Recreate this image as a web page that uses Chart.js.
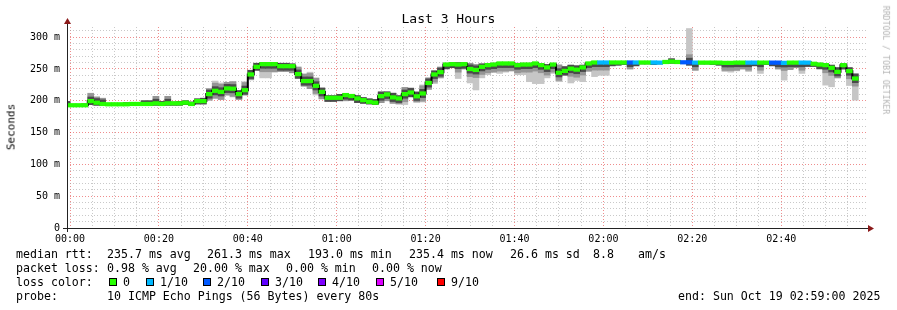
<!DOCTYPE html>
<html>
<head>
<meta charset="utf-8">
<title>Last 3 Hours</title>
<script src="https://cdn.jsdelivr.net/npm/chart.js@4.4.0/dist/chart.umd.min.js"></script>
<style>
  html, body { margin: 0; padding: 0; background: #fff; }
  #wrap { position: relative; width: 897px; height: 310px; overflow: hidden;
          font-family: "DejaVu Sans Mono", monospace; color: #000; }
  #c { position: absolute; left: 0; top: 0; }
  .t { position: absolute; white-space: pre; font-size: 11.6px; line-height: 14px; }
  .box { position: absolute; width: 6px; height: 6px; border: 1px solid #000; }
  .rot { position: absolute; white-space: pre; line-height: 1; }
</style>
</head>
<body>
<div id="wrap">
  <canvas id="c" width="897" height="310"></canvas>
  <div class="t" style="left:0;width:897px;top:12px;text-align:center;font-size:13px;">Last 3 Hours</div>
  <div class="rot" style="left:11px;top:127px;font-size:11px;color:#000;transform:translate(-50%,-50%) rotate(-90deg);">Seconds</div>
  <div class="rot" style="left:886px;top:60px;font-size:8.2px;color:#b4b4b4;transform:translate(-50%,-50%) rotate(90deg);">RRDTOOL / TOBI OETIKER</div>
  <div id="legend"></div>
</div>
<script>
// one step = 80s (10 pings), first step starts 80s before 00:00
const STEP_MIN = 80 / 60;
const FIRST_STEP = -1;

// median rtt per step, ms
const median = [
  193, 193, 193, 193, 199.5, 197, 195, 194.5, 194.5, 194.5,
  194.5, 195, 195, 195, 195, 196, 195, 196, 196, 196,
  197, 195, 199.5, 199.5, 210.5, 215.7, 214, 219.4, 219, 210.5,
  216.7, 241.4, 253.4, 257.6, 257.6, 257.6, 254.4, 254.4, 254.4, 242,
  231, 231, 223.5, 214, 204.7, 204.7, 204.7, 209, 207.5, 203.7,
  201, 198.4, 197, 207.3, 210, 205.3, 203.7, 210.5, 213, 207,
  211.5, 228, 241.4, 245, 257, 257.6, 257, 257.6, 250, 248.5,
  253.4, 256, 257, 258.7, 258.7, 258.7, 256, 257, 257, 258.7,
  256, 252.4, 257, 244, 247, 250.5, 249, 252.4, 258.7, 260.2,
  260.2, 260.2, 260.2, 260.2, 260.2, 260.2, 260.2, 260.2, 260.2, 260.2,
  260, 261, 261.7, 261, 260.5, 260.5, 260, 260, 260, 260,
  260, 259.6, 259.6, 260, 260, 260, 260, 260, 260, 260,
  260, 259.6, 260, 260, 260, 260, 258.2, 257, 256, 251.8,
  245.5, 256, 246.6, 235
];

// fastest ping per step (bottom of smoke), ms
const smokeLo = [
  192, 192, 192, 192, 194, 193, 193, 193, 193, 193,
  193, 193, 193, 193, 193, 193, 193, 193, 193, 193,
  194, 193, 195, 195, 201, 204, 202, 209, 206, 202,
  209, 233, 248, 236, 236, 245, 246, 246, 244, 235,
  223, 219, 209, 203, 199, 199, 200, 200, 201, 197,
  196, 195, 194, 197, 200, 196, 195, 194, 206, 198,
  198, 218, 227, 236, 250, 252, 235, 250, 228, 217,
  236, 241, 245, 243, 245, 247, 241, 241, 230, 227,
  227, 236, 243, 230, 240, 228, 232, 230, 246, 238,
  240, 240, 255, 256, 257, 250, 255, 258, 258, 257,
  258, 259, 259, 259, 259, 256, 248, 258, 258, 257,
  256, 246, 245, 247, 250, 246, 255, 243, 257, 255,
  250, 232.5, 249, 252, 243, 254, 254, 250, 224.6, 222,
  236, 250, 224, 201
];

// slowest ping per step (top of smoke), ms
const smokeHi = [
  199, 194, 194, 195, 212, 206, 204, 196, 196, 196,
  197, 197, 197, 200, 200, 207, 199, 207, 198, 199,
  200, 198, 203, 204, 219, 231, 228, 229, 230, 216,
  230, 248, 259, 260, 260, 260, 259, 259, 258, 253,
  242, 245, 236, 220, 208, 208, 210, 211, 210, 208,
  205, 203, 202, 214, 214, 212, 208, 221, 220, 214,
  225, 236, 247, 253, 259, 260, 260, 260, 259, 257,
  258, 258, 259, 260, 260, 260, 259, 259, 259, 260,
  258, 257, 258, 257, 254, 256, 255, 256, 260, 261,
  261, 261, 261, 261, 261, 261, 261, 261, 261, 261,
  261, 262, 266, 263, 261, 313.6, 261, 261, 261, 261,
  261, 261, 261, 261, 261, 261, 261, 261, 261, 261,
  261, 261, 261, 261, 261, 261, 260, 259, 258, 256,
  252, 258, 252, 243
];

// lost pings out of 10, per step
const loss = [
  0, 0, 0, 0, 0, 0, 0, 0, 0, 0,
  0, 0, 0, 0, 0, 0, 0, 0, 0, 0,
  0, 0, 0, 0, 0, 0, 0, 0, 0, 0,
  0, 0, 0, 0, 0, 0, 0, 0, 0, 0,
  0, 0, 0, 0, 0, 0, 0, 0, 0, 0,
  0, 0, 0, 0, 0, 0, 0, 0, 0, 0,
  0, 0, 0, 0, 0, 0, 0, 0, 0, 0,
  0, 0, 0, 0, 0, 0, 0, 0, 0, 0,
  0, 0, 0, 0, 0, 0, 0, 0, 0, 0,
  1, 1, 0, 0, 0, 2, 1, 0, 0, 1,
  1, 0, 0, 0, 2, 2, 1, 0, 0, 0,
  0, 0, 0, 0, 0, 1, 1, 0, 0, 2,
  2, 1, 0, 0, 1, 1, 0, 0, 0, 0,
  0, 0, 0, 0
];

const lossLevels = [0, 1, 2, 3, 4, 5, 9];
const lossLabels = ["0", "1/10", "2/10", "3/10", "4/10", "5/10", "9/10"];
const lossColors = ["#26ff00", "#00b8ff", "#0059ff", "#5e00ff", "#7e00ff", "#dd00ff", "#ff0000"];

const xTickLabels = ["00:00", "00:20", "00:40", "01:00", "01:20", "01:40", "02:00", "02:20", "02:40"];
const yTickLabels = ["0", "50 m", "100 m", "150 m", "200 m", "250 m", "300 m"];

const statsRtt = ["235.7 ms avg", "261.3 ms max", "193.0 ms min", "235.4 ms now", "26.6 ms sd", "8.8", "am/s"];
const statsLoss = ["0.98 % avg", "20.00 % max", "0.00 % min", "0.00 % now"];
const probeText = "10 ICMP Echo Pings (56 Bytes) every 80s";
const endText = "end: Sun Oct 19 02:59:00 2025";

// ---- legend (html text) ----
function legendHTML() {
  const t = (x, y, s) => `<div class="t" style="left:${x}px;top:${y - 7}px">${s}</div>`;
  let h = "";
  h += t(16, 254, "median rtt:");
  [107, 207, 308, 409, 510, 593, 638].forEach((x, i) => h += t(x, 254, statsRtt[i]));
  h += t(16, 268, "packet loss:");
  [107, 193, 286, 372].forEach((x, i) => h += t(x, 268, statsLoss[i]));
  h += t(16, 282, "loss color:");
  [109, 146, 203, 261, 318, 376, 437].forEach((x, i) => {
    h += `<div class="box" style="left:${x}px;top:278px;background:${lossColors[i]}"></div>`;
    h += t(x + 14, 282, lossLabels[i]);
  });
  h += t(16, 296, "probe:");
  h += t(107, 296, probeText);
  h += t(678, 296, endText);
  return h;
}
document.getElementById("legend").innerHTML = legendHTML();

// ---- chart ----
const stepX = i => (FIRST_STEP + i + 0.5) * STEP_MIN;
const colorFor = n => lossColors[lossLevels.indexOf(n)];

// smoke shading bands around the median (ms), clipped to the ping range
function band(d) {
  return median.map((m, i) => ({
    x: stepX(i),
    y: [Math.max(smokeLo[i], m - d), Math.min(smokeHi[i], m + d)]
  }));
}

const MAJOR = "rgba(230, 80, 80, 0.65)";
const MINOR = "rgba(165, 165, 165, 0.6)";
const barOpts = { type: "bar", grouped: false, barPercentage: 1, categoryPercentage: 1, borderWidth: 0 };

const axisArrows = {
  id: "axisArrows",
  afterDraw(chart) {
    const { ctx, chartArea: a } = chart;
    ctx.save();
    ctx.strokeStyle = "#222";
    ctx.lineWidth = 1;
    ctx.beginPath();
    ctx.moveTo(a.left - 4, a.bottom + 0.5);
    ctx.lineTo(a.right + 2, a.bottom + 0.5);
    ctx.moveTo(a.left + 0.5, a.bottom + 4);
    ctx.lineTo(a.left + 0.5, a.top - 4);
    ctx.stroke();
    ctx.fillStyle = "#8b1a1a";
    ctx.beginPath();
    ctx.moveTo(a.right + 1, a.bottom - 3);
    ctx.lineTo(a.right + 7, a.bottom + 0.5);
    ctx.lineTo(a.right + 1, a.bottom + 4);
    ctx.closePath();
    ctx.fill();
    ctx.beginPath();
    ctx.moveTo(a.left - 3, a.top - 3);
    ctx.lineTo(a.left + 0.5, a.top - 9);
    ctx.lineTo(a.left + 4, a.top - 3);
    ctx.closePath();
    ctx.fill();
    ctx.restore();
  }
};

new Chart(document.getElementById("c"), {
  type: "line",
  data: {
    datasets: [
      Object.assign({ label: "smoke", data: median.map((m, i) => ({ x: stepX(i), y: [smokeLo[i], smokeHi[i]] })),
        backgroundColor: "#c6c6c6", order: 5 }, barOpts),
      Object.assign({ label: "smoke mid", data: band(12), backgroundColor: "#959595", order: 4 }, barOpts),
      Object.assign({ label: "smoke dark", data: band(6.5), backgroundColor: "#4a4a4a", order: 3 }, barOpts),
      { type: "line", label: "median step", data: median.map((m, i) => ({ x: stepX(i), y: m })),
        stepped: "middle", borderColor: "#000", borderWidth: 2, pointRadius: 0, order: 2 },
      Object.assign({ label: "median", data: median.map((m, i) => ({ x: stepX(i), y: [m - 2.8, m + 2.8] })),
        backgroundColor: loss.map(colorFor), order: 1 }, barOpts)
    ]
  },
  options: {
    responsive: false,
    animation: false,
    layout: { padding: { top: 27, right: 30, left: 0, bottom: 0 } },
    plugins: { legend: { display: false }, tooltip: { enabled: false }, title: { display: false } },
    scales: {
      x: {
        type: "linear", min: -0.675, max: 179.3, offset: false,
        afterBuildTicks(s) { s.ticks = []; for (let m = 0; m < 180; m += 5) s.ticks.push({ value: m }); },
        afterFit(s) { s.height = 82; },
        ticks: {
          autoSkip: false, maxRotation: 0, padding: 5, color: "#000",
          font: { family: "DejaVu Sans Mono", size: 10 },
          callback: v => (v % 20 === 0 ? xTickLabels[v / 20] : "")
        },
        grid: { drawTicks: false, offset: false, color: c => (c.tick && c.tick.value % 20 === 0 ? MAJOR : MINOR) },
        border: { display: false, dash: [1, 2] }
      },
      y: {
        type: "linear", min: 0, max: 316,
        afterBuildTicks(s) { s.ticks = []; for (let v = 0; v <= 310; v += 10) s.ticks.push({ value: v }); },
        afterFit(s) { s.width = 67; },
        ticks: {
          autoSkip: false, padding: 7, color: "#000",
          font: { family: "DejaVu Sans Mono", size: 10 },
          callback: v => (v % 50 === 0 ? yTickLabels[v / 50] : "")
        },
        grid: { drawTicks: false, color: c => (c.tick && c.tick.value % 50 === 0 ? MAJOR : MINOR) },
        border: { display: false, dash: [1, 2] }
      }
    }
  },
  plugins: [axisArrows]
});
</script>
</body>
</html>
